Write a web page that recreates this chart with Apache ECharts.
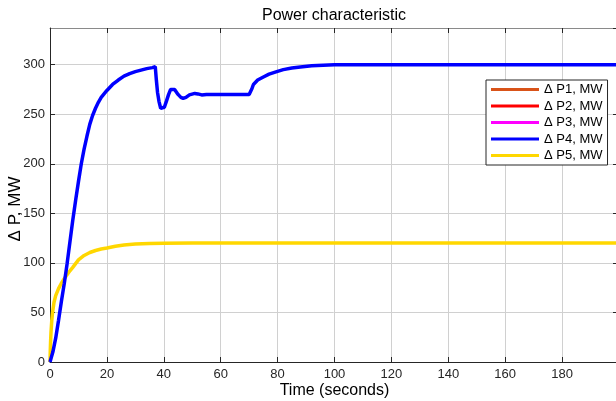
<!DOCTYPE html>
<html>
<head>
<meta charset="utf-8">
<script src="https://cdn.jsdelivr.net/npm/echarts@6/dist/echarts.min.js"></script>
<style>html,body{margin:0;padding:0;background:#fff}#c{width:616px;height:401px}</style>
</head>
<body>
<div id="c"></div>
<script>
// ---- data ----
const titleText = 'Power characteristic';
const xName = 'Time (seconds)';
const yName = 'Δ P, MW';
const seriesNames = ['Δ P1, MW', 'Δ P2, MW', 'Δ P3, MW', 'Δ P4, MW', 'Δ P5, MW'];
const seriesColors = ['#D95319', '#FF0000', '#FF00FF', '#0000FF', '#FFD700'];
const xTicks = [0, 20, 40, 60, 80, 100, 120, 140, 160, 180];
const yTicks = [0, 50, 100, 150, 200, 250, 300];

const p1Time = [], p1Values = [];
const p2Time = [], p2Values = [];
const p3Time = [], p3Values = [];

const p4Time = [0, 1, 2, 3, 4, 5, 6, 7, 8, 9, 10, 11, 12, 13, 14, 15, 16, 17, 18, 20, 22, 24, 26, 28, 30, 32, 34, 36, 37,
  37.4, 37.8, 38.3, 38.9, 39.5, 40.2, 40.9, 41.7, 42.4, 43, 43.8, 45, 46, 46.8, 47.8, 49, 50.9, 52, 53.3, 55, 60, 65, 70,
  70.5, 71, 71.5, 72.1, 73, 75, 77, 79.7, 82, 85, 88, 92, 96, 100, 110, 120, 150, 200];
const p4Values = [0, 10, 24, 42, 61, 79, 99, 121, 143, 163, 182, 200, 215, 228, 240, 249, 256, 262, 267, 274, 280, 284.5, 288.5, 291, 293, 294.5, 296, 297, 298,
  284, 272, 263, 256, 254, 257, 263, 270, 275, 276.5, 275, 270, 267, 266, 267, 269.5, 271, 270.5, 269.5, 270, 270, 270, 270,
  271, 276, 280, 282, 284.5, 287.6, 290.5, 293, 295, 296.7, 297.7, 298.8, 299.4, 299.8, 300, 300, 300, 300];

const p5Time = [0, 0.1, 0.2, 0.35, 0.6, 0.9, 1.4, 2, 3, 4, 5, 6, 7, 8, 10, 12, 14, 16, 18, 20, 23, 26, 30, 35, 40, 50, 100, 200];
const p5Values = [0, 12, 20, 30, 41, 50, 60, 67, 74, 79.5, 84, 88, 92, 95.5, 103, 107.5, 110.5, 112.5, 114, 115, 116.8, 118, 119, 119.6, 119.9, 120, 120, 120];

const allTimes = [p1Time, p2Time, p3Time, p4Time, p5Time];
const allValues = [p1Values, p2Values, p3Values, p4Values, p5Values];

// ---- chart ----
const FONT = 'Liberation Sans, Arial, Helvetica, sans-serif';
const axisColor = '#262626';
const chart = echarts.init(document.getElementById('c'), null, { renderer: 'canvas' });

const series = seriesNames.map((name, i) => ({
  name: name,
  type: 'line',
  data: allTimes[i].map((t, k) => [t, allValues[i][k]]),
  showSymbol: false,
  symbol: 'none',
  smooth: false,
  lineStyle: { width: 3.5, color: seriesColors[i] },
  itemStyle: { color: seriesColors[i] },
  z: i === 3 ? 4 : 3,
  animation: false
}));

const xMin = xTicks[0], xMax = 200, xInt = xTicks[1] - xTicks[0];
const yMin = yTicks[0], yMax = 337, yInt = yTicks[1] - yTicks[0];

chart.setOption({
  animation: false,
  backgroundColor: '#fff',
  textStyle: { fontFamily: FONT },
  title: {
    text: titleText,
    left: 334,
    textAlign: 'center',
    top: 8,
    padding: 0,
    textStyle: { fontFamily: FONT, fontSize: 16, fontWeight: 'normal', color: '#000' }
  },
  legend: {
    data: seriesNames,
    orient: 'vertical',
    left: 486,
    top: 80,
    padding: [3, 5, 3, 5],
    itemGap: 3.5,
    itemWidth: 48,
    itemHeight: 3,
    icon: 'rect',
    backgroundColor: '#fff',
    borderColor: axisColor,
    borderWidth: 1,
    borderRadius: 0,
    textStyle: { fontFamily: FONT, fontSize: 13, color: '#000' }
  },
  grid: { left: 50, right: -3, top: 28, bottom: 39, containLabel: false, outerBoundsMode: 'none' },
  xAxis: [{
    type: 'value', min: xMin, max: xMax, interval: xInt,
    name: xName, nameLocation: 'middle', nameGap: 21, nameMoveOverlap: false,
    nameTextStyle: { fontFamily: FONT, fontSize: 16, color: '#000' },
    axisLine: { show: true, onZero: false, lineStyle: { color: axisColor, width: 1 } },
    axisTick: { show: true, inside: true, length: 5, lineStyle: { color: axisColor } },
    axisLabel: { show: true, fontFamily: FONT, fontSize: 13, color: axisColor, margin: 6, showMaxLabel: false },
    splitLine: { show: true, lineStyle: { color: '#d0d0d0', width: 1 } }
  }, {
    type: 'value', position: 'top', min: xMin, max: xMax, interval: xInt,
    axisLine: { show: true, onZero: false, lineStyle: { color: '#8a8a8a', width: 1 } },
    axisTick: { show: true, inside: true, length: 5, lineStyle: { color: axisColor } },
    axisLabel: { show: false },
    splitLine: { show: false }
  }],
  yAxis: [{
    type: 'value', min: yMin, max: yMax, interval: yInt,
    name: yName, nameLocation: 'middle', nameGap: 26, nameRotate: 90, nameMoveOverlap: false,
    nameTextStyle: { fontFamily: FONT, fontSize: 17, color: '#000', padding: [0, 28, 0, 0] },
    axisLine: { show: true, onZero: false, lineStyle: { color: axisColor, width: 1 } },
    axisTick: { show: true, inside: true, length: 5, lineStyle: { color: axisColor } },
    axisLabel: { show: true, fontFamily: FONT, fontSize: 13, color: axisColor, margin: 5, showMaxLabel: false },
    splitLine: { show: true, lineStyle: { color: '#d0d0d0', width: 1 } }
  }, {
    type: 'value', position: 'right', min: yMin, max: yMax, interval: yInt,
    axisLine: { show: true, onZero: false, lineStyle: { color: axisColor, width: 1 } },
    axisTick: { show: true, inside: true, length: 6, lineStyle: { color: axisColor } },
    axisLabel: { show: false },
    splitLine: { show: false }
  }],
  series: series
});
</script>
</body>
</html>
